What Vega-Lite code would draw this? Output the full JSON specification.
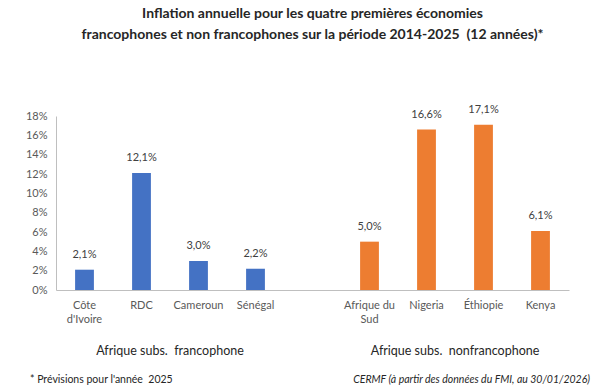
{
  "$schema": "https://vega.github.io/schema/vega-lite/v6.json",
  "width": 513,
  "height": 174,
  "autosize": {"type": "none"},
  "padding": {"left": 56, "top": 116, "right": 31, "bottom": 101},
  "background": "white",
  "config": {
    "font": "Lato",
    "view": {"stroke": null},
    "axis": {"labelOverlap": false},
    "locale": {"number": {"decimal": ",", "thousands": " ", "grouping": [3], "currency": ["", " €"]}}
  },
  "title": {
    "text": ["Inflation annuelle pour les quatre premières économies", "francophones et non francophones sur la période 2014-2025 \u00a0(12 années)*"],
    "font": "Lato",
    "fontSize": 14,
    "fontWeight": "bold",
    "color": "#262626",
    "lineHeight": 21,
    "anchor": "middle",
    "offset": 62
  },
  "datasets": {
    "pays": [
      {"pays": "Côte|d'Ivoire", "groupe": "francophone", "inflation": 0.021},
      {"pays": "RDC", "groupe": "francophone", "inflation": 0.121},
      {"pays": "Cameroun", "groupe": "francophone", "inflation": 0.030},
      {"pays": "Sénégal", "groupe": "francophone", "inflation": 0.022},
      {"pays": "Afrique du|Sud", "groupe": "non francophone", "inflation": 0.050},
      {"pays": "Nigeria", "groupe": "non francophone", "inflation": 0.166},
      {"pays": "Éthiopie", "groupe": "non francophone", "inflation": 0.171},
      {"pays": "Kenya", "groupe": "non francophone", "inflation": 0.061}
    ],
    "groupes": [
      {"libelle": "Afrique subs. \u00a0francophone", "pays": "RDC"},
      {"libelle": "Afrique subs. \u00a0nonfrancophone", "pays": "Nigeria"}
    ],
    "notes": [
      {"note": "* Prévisions pour l'année \u00a02025", "source": "CERMF (à partir des données du FMI, au 30/01/2026)"}
    ]
  },
  "encoding": {
    "x": {
      "field": "pays",
      "type": "nominal",
      "sort": null,
      "scale": {
        "domain": ["Côte|d'Ivoire", "RDC", "Cameroun", "Sénégal", " ", "Afrique du|Sud", "Nigeria", "Éthiopie", "Kenya"],
        "paddingInner": 0.67,
        "paddingOuter": 0.335
      },
      "axis": {
        "title": null,
        "labelAngle": 0,
        "labelExpr": "split(datum.label, '|')",
        "labelFont": "Lato",
        "labelFontSize": 11,
        "labelColor": "#595959",
        "labelLineHeight": 14,
        "labelPadding": 9,
        "ticks": false,
        "domainColor": "#BFBFBF",
        "domainWidth": 1,
        "labelBaseline": "top"
      }
    },
    "y": {
      "field": "inflation",
      "type": "quantitative",
      "scale": {"domain": [0, 0.18], "nice": false},
      "axis": {
        "title": null,
        "format": ".0%",
        "values": [0, 0.02, 0.04, 0.06, 0.08, 0.1, 0.12, 0.14, 0.16, 0.18],
        "labelOverlap": false,
        "grid": false,
        "ticks": false,
        "labelFont": "Lato",
        "labelFontSize": 11,
        "labelColor": "#595959",
        "labelPadding": 9,
        "domainColor": "#BFBFBF",
        "domainWidth": 1
      }
    }
  },
  "layer": [
    {
      "data": {"name": "pays"},
      "mark": {"type": "bar"},
      "encoding": {
        "color": {
          "field": "groupe",
          "type": "nominal",
          "scale": {"domain": ["francophone", "non francophone"], "range": ["#4472C4", "#ED7D31"]},
          "legend": null
        }
      }
    },
    {
      "data": {"name": "pays"},
      "mark": {"type": "text", "dy": -10, "fontSize": 11, "color": "#404040", "font": "Lato", "baseline": "bottom"},
      "encoding": {
        "text": {"field": "inflation", "type": "quantitative", "format": ".1%"}
      }
    },
    {
      "data": {"name": "notes"},
      "mark": {"type": "text", "dx": -26, "dy": 90, "fontSize": 10.5, "color": "#262626", "font": "Lato", "baseline": "middle", "align": "left"},
      "encoding": {
        "x": {"value": 0},
        "y": {"value": "height"},
        "text": {"field": "note"}
      }
    },
    {
      "data": {"name": "notes"},
      "mark": {"type": "text", "dx": 21, "dy": 90, "fontSize": 10.5, "color": "#262626", "font": "Lato", "fontStyle": "italic", "baseline": "middle", "align": "right"},
      "encoding": {
        "x": {"value": "width"},
        "y": {"value": "height"},
        "text": {"field": "source"}
      }
    },
    {
      "data": {"name": "groupes"},
      "mark": {"type": "text", "dx": 28.5, "dy": 61, "fontSize": 12.5, "color": "#262626", "font": "Lato", "baseline": "middle", "align": "center"},
      "encoding": {
        "y": {"value": "height"},
        "text": {"field": "libelle"}
      }
    }
  ]
}
